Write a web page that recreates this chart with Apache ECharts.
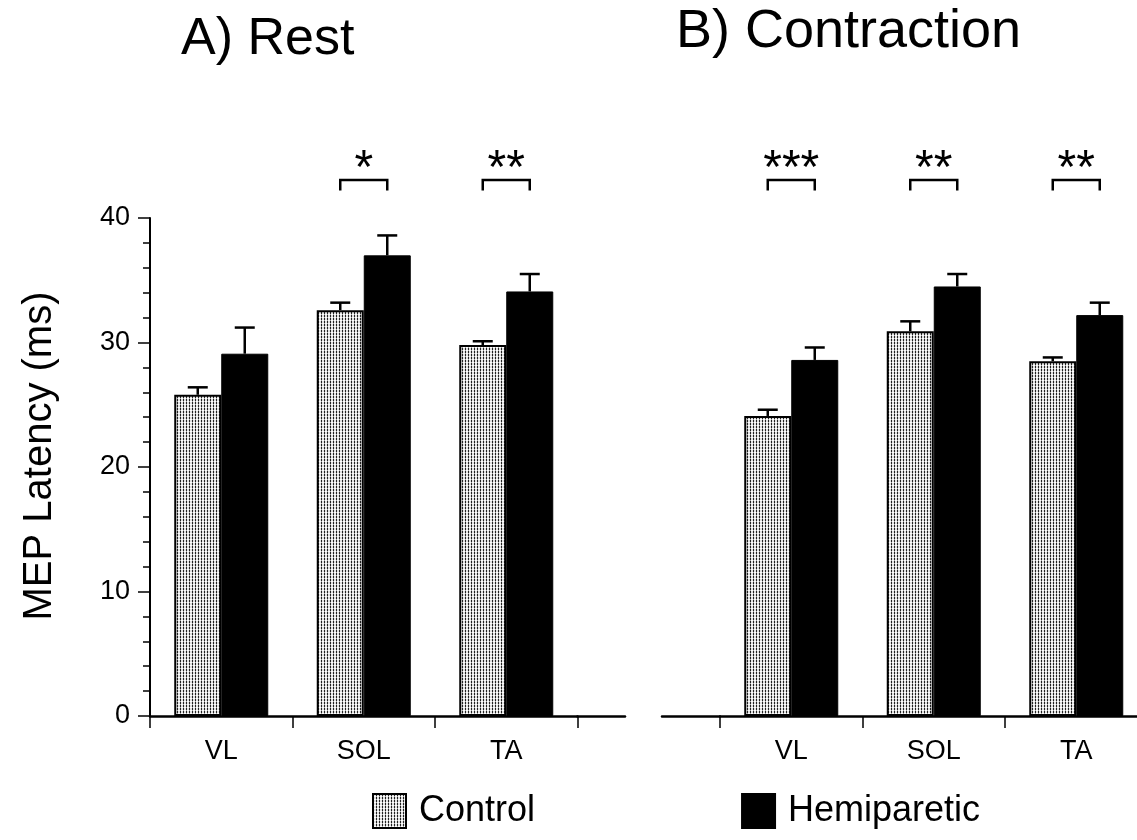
<!DOCTYPE html>
<html>
<head>
<meta charset="utf-8">
<title>MEP Latency</title>
<script src="https://cdn.jsdelivr.net/npm/echarts@6/dist/echarts.min.js"></script>
<style>
  html, body { margin: 0; padding: 0; background: #fff; }
  #chart { width: 1137px; height: 840px; }
</style>
</head>
<body>
<div id="chart"></div>
<script>
// Muscle categories shared by both panels
const categories = ['VL', 'SOL', 'TA'];

// A) Rest: mean latency (ms) and upper error (ms)
const restControl = [25.8, 32.6, 29.8];
const restControlErr = [0.6, 0.6, 0.3];
const restHemi = [29.1, 37.0, 34.1];
const restHemiErr = [2.1, 1.6, 1.4];
const restSig = ['', '*', '**'];

// B) Contraction: mean latency (ms) and upper error (ms)
const contrControl = [24.1, 30.9, 28.5];
const contrControlErr = [0.5, 0.8, 0.3];
const contrHemi = [28.6, 34.5, 32.2];
const contrHemiErr = [1.0, 1.0, 1.0];
const contrSig = ['***', '**', '**'];

const FONT = "'Liberation Sans', Arial, Helvetica, sans-serif";
const BAR_W = 47;
const CAP_W = 20;
const BRACKET_TOP = 43.05;
const BRACKET_LEG = 42.2;
const STAR_LEVEL = 43.9;

// stippled fill used for the control bars
function makeStipple() {
  const c = document.createElement('canvas');
  c.width = 3; c.height = 3;
  const g = c.getContext('2d');
  g.fillStyle = '#ffffff';
  g.fillRect(0, 0, 3, 3);
  g.fillStyle = '#e0e0e0';
  g.fillRect(1, 0, 2, 2);
  g.fillStyle = '#222222';
  g.fillRect(0, 0, 1, 2);
  g.fillStyle = '#a8a8a8';
  g.fillRect(0, 2, 1, 1);
  return c;
}
const stipple = { image: makeStipple(), repeat: 'repeat' };

const chart = echarts.init(document.getElementById('chart'), null, { renderer: 'canvas' });

const axisLine = { show: true, lineStyle: { color: '#000', width: 2.5 } };

function catAxis(gridIndex, data, ticks) {
  return {
    type: 'category', gridIndex, data,
    boundaryGap: true,
    axisLine,
    axisTick: { show: ticks, length: 12, alignWithLabel: false, lineStyle: { color: '#000', width: 1.5 } },
    axisLabel: { show: ticks, color: '#000', fontSize: 27, fontFamily: FONT, margin: 22 },
    splitLine: { show: false }
  };
}
function valAxis(gridIndex, visible) {
  return {
    type: 'value', gridIndex, min: 0, max: 40, interval: 10,
    show: visible,
    name: visible ? 'MEP Latency (ms)' : '',
    nameLocation: 'middle', nameGap: 90,
    nameTextStyle: { color: '#000', fontSize: 40, fontFamily: FONT, padding: [0, 0, 0, 22] },
    axisLine: { show: visible, lineStyle: { color: '#000', width: 2 } },
    axisTick: { show: visible, length: 12, lineStyle: { color: '#000', width: 1.5 } },
    minorTick: { show: visible, splitNumber: 5, length: 7, lineStyle: { color: '#000', width: 1.5 } },
    axisLabel: { show: visible, color: '#000', fontSize: 27, fontFamily: FONT, margin: 20 },
    splitLine: { show: false }
  };
}

function errorSeries(axisIdx, means, errs, offset) {
  return {
    type: 'custom', xAxisIndex: axisIdx, yAxisIndex: axisIdx, z: 5, clip: false,
    silent: true,
    data: means.map((m, i) => [i, m, m + errs[i]]),
    renderItem(params, api) {
      const base = api.coord([api.value(0), api.value(1)]);
      const top = api.coord([api.value(0), api.value(2)]);
      const x = base[0] + offset;
      const st = { stroke: '#000', lineWidth: 2.5 };
      return {
        type: 'group',
        children: [
          { type: 'line', shape: { x1: x, y1: base[1], x2: x, y2: top[1] }, style: st },
          { type: 'line', shape: { x1: x - CAP_W / 2, y1: top[1], x2: x + CAP_W / 2, y2: top[1] }, style: st }
        ]
      };
    }
  };
}

function sigSeries(axisIdx, marks) {
  return {
    type: 'custom', xAxisIndex: axisIdx, yAxisIndex: axisIdx, z: 5, clip: false,
    silent: true,
    data: marks.map((s, i) => [i, s.length]).filter(d => d[1] > 0),
    renderItem(params, api) {
      const i = api.value(0);
      const top = api.coord([i, BRACKET_TOP]);
      const leg = api.coord([i, BRACKET_LEG]);
      const star = api.coord([i, STAR_LEVEL]);
      const l = top[0] - BAR_W / 2, r = top[0] + BAR_W / 2;
      return {
        type: 'group',
        children: [
          { type: 'polyline', shape: { points: [[l, leg[1]], [l, top[1]], [r, top[1]], [r, leg[1]]] },
            style: { stroke: '#000', lineWidth: 2.5, fill: null } },
          { type: 'text', x: top[0], y: star[1],
            style: { text: '*'.repeat(api.value(1)), fill: '#000', font: '48px ' + FONT,
                     align: 'center', verticalAlign: 'middle' } }
        ]
      };
    }
  };
}

function barPair(axisIdx, ctrl, hemi) {
  return [
    { name: 'Control', type: 'bar', xAxisIndex: axisIdx, yAxisIndex: axisIdx,
      barWidth: BAR_W, barGap: '0%', data: ctrl,
      itemStyle: { color: stipple, borderColor: '#000', borderWidth: 2 } },
    { name: 'Hemiparetic', type: 'bar', xAxisIndex: axisIdx, yAxisIndex: axisIdx,
      barWidth: BAR_W, barGap: '0%', data: hemi,
      itemStyle: { color: '#000', borderColor: '#000', borderWidth: 1 } }
  ];
}

const gridBase = { top: 218, height: 498, outerBoundsMode: 'none', containLabel: false };

const option = {
  backgroundColor: '#fff',
  animation: false,
  title: [
    { text: 'A) Rest', left: 176, top: 9, textStyle: { fontSize: 52, fontWeight: 'normal', color: '#000', fontFamily: FONT } },
    { text: 'B) Contraction', left: 671, top: 0, textStyle: { fontSize: 54, fontWeight: 'normal', color: '#000', fontFamily: FONT } }
  ],
  legend: {
    bottom: 6, left: 367,
    data: ['Control', 'Hemiparetic'],
    icon: 'rect', itemWidth: 33, itemHeight: 34, itemGap: 206,
    textStyle: { fontSize: 36, color: '#000', fontFamily: FONT, padding: [0, 0, 0, 8] },
    selectedMode: false
  },
  grid: [
    Object.assign({ left: 150, width: 427.5 }, gridBase),
    Object.assign({ left: 577.5, width: 47.5 }, gridBase),
    Object.assign({ left: 662, width: 58 }, gridBase),
    Object.assign({ left: 720, width: 427.5 }, gridBase)
  ],
  xAxis: [
    catAxis(0, categories, true),
    catAxis(1, [''], false),
    catAxis(2, [''], false),
    catAxis(3, categories, true)
  ],
  yAxis: [valAxis(0, true), valAxis(1, false), valAxis(2, false), valAxis(3, false)],
  series: [
    ...barPair(0, restControl, restHemi),
    ...barPair(3, contrControl, contrHemi),
    errorSeries(0, restControl, restControlErr, -BAR_W / 2),
    errorSeries(0, restHemi, restHemiErr, BAR_W / 2),
    errorSeries(3, contrControl, contrControlErr, -BAR_W / 2),
    errorSeries(3, contrHemi, contrHemiErr, BAR_W / 2),
    sigSeries(0, restSig),
    sigSeries(3, contrSig)
  ]
};
chart.setOption(option);
</script>
</body>
</html>
